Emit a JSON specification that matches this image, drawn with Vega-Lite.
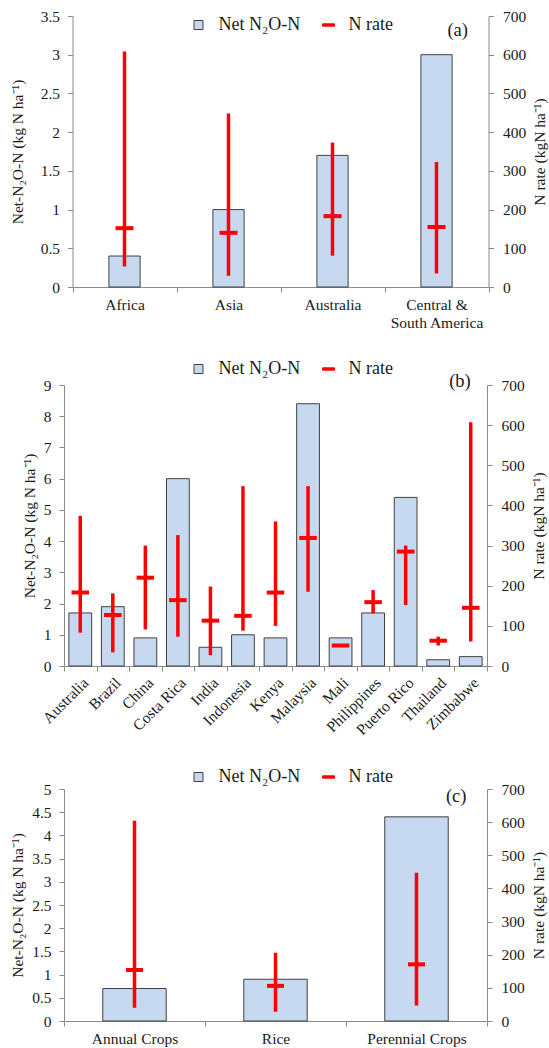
{
  "$schema": "https://vega.github.io/schema/vega-lite/v6.json",
  "padding": {"left": 10, "top": 9, "right": 0, "bottom": 5},
  "background": "white",
  "config": {
    "font": "Liberation Serif",
    "view": {"stroke": null},
    "axis": {
      "labelFont": "Liberation Serif",
      "titleFont": "Liberation Serif",
      "labelFontSize": 15.5,
      "titleFontSize": 15.5,
      "titleFontWeight": "normal",
      "labelColor": "#1a1a1a",
      "titleColor": "#1a1a1a",
      "domainColor": "#8a8a8a",
      "tickColor": "#8a8a8a",
      "grid": false,
      "tickSize": 5,
      "labelPadding": 8
    },
    "legend": {
      "title": null,
      "labelFont": "Liberation Serif",
      "labelFontSize": 18,
      "labelColor": "#1a1a1a",
      "symbolSize": 144,
      "labelOffset": 11,
      "columnPadding": 19,
      "padding": 0,
      "direction": "horizontal",
      "orient": "none"
    }
  },
  "datasets": {
    "a": [
      {"cat": "Africa", "net": 0.4, "mean": 152, "min": 53, "max": 608},
      {"cat": "Asia", "net": 1.0, "mean": 140, "min": 29, "max": 448},
      {"cat": "Australia", "net": 1.7, "mean": 183, "min": 81, "max": 373},
      {"cat": "Central & South America", "net": 3.0, "mean": 155, "min": 35, "max": 323}
    ],
    "b": [
      {"cat": "Australia", "net": 1.7, "mean": 183, "min": 83, "max": 374},
      {"cat": "Brazil", "net": 1.9, "mean": 127, "min": 34, "max": 181},
      {"cat": "China", "net": 0.9, "mean": 220, "min": 91, "max": 300},
      {"cat": "Costa Rica", "net": 6.0, "mean": 164, "min": 73, "max": 326},
      {"cat": "India", "net": 0.6, "mean": 113, "min": 27, "max": 198},
      {"cat": "Indonesia", "net": 1.0, "mean": 125, "min": 88, "max": 448},
      {"cat": "Kenya", "net": 0.9, "mean": 183, "min": 100, "max": 360},
      {"cat": "Malaysia", "net": 8.4, "mean": 319, "min": 185, "max": 448},
      {"cat": "Mali", "net": 0.9, "mean": 51, "min": 51, "max": 51},
      {"cat": "Philippines", "net": 1.7, "mean": 159, "min": 131, "max": 189},
      {"cat": "Puerto Rico", "net": 5.4, "mean": 285, "min": 152, "max": 300},
      {"cat": "Thailand", "net": 0.2, "mean": 63, "min": 51, "max": 73},
      {"cat": "Zimbabwe", "net": 0.3, "mean": 145, "min": 61, "max": 607}
    ],
    "c": [
      {"cat": "Annual Crops", "net": 0.7, "mean": 154, "min": 40, "max": 604},
      {"cat": "Rice", "net": 0.9, "mean": 106, "min": 28, "max": 206},
      {"cat": "Perennial Crops", "net": 4.4, "mean": 171, "min": 47, "max": 447}
    ]
  },
  "columns": 1,
  "spacing": 29,
  "resolve": {"scale": {"color": "independent"}, "legend": {"color": "independent"}},
  "concat": [
    {
      "width": 424.5,
      "height": 271,
      "data": {"name": "a"},
      "layer": [
        {
          "mark": {"type": "bar", "stroke": "#404040", "strokeWidth": 1, "width": {"band": 0.3}},
          "encoding": {
            "x": {"field": "cat", "type": "nominal", "sort": null, "scale": {"type": "band", "paddingInner": 0, "paddingOuter": 0, "range": [8.5, 424.5]},
              "axis": {"title": null, "labelAngle": 0, "tickBand": "extent", "labelPadding": 5, "labelLineHeight": 18,
                "labelExpr": "datum.label == 'Central & South America' ? ['Central &', 'South America'] : datum.label"}},
            "y": {"field": "net", "type": "quantitative", "scale": {"domain": [0, 3.5]},
              "axis": {"title": "Net-N₂O-N (kg N ha⁻¹)", "values": [0, 0.5, 1, 1.5, 2, 2.5, 3, 3.5], "format": "~g", "titlePadding": 15, "offset": -8.5}},
            "color": {"datum": "Net N₂O-N", "scale": {"domain": ["Net N₂O-N", "N rate"], "range": ["#c6d9f1", "#ff0000"]},
              "legend": {"legendX": 125.5, "legendY": 0, "labelFont": "Liberation Serif",
                "encoding": {"symbols": {
                  "shape": {"value": {"expr": "datum.value === 'N rate' ? 'M-1,-0.2H1V0.2H-1Z' : 'M-0.75,-0.75H0.75V0.75H-0.75Z'"}},
                  "fill": {"value": {"expr": "datum.value === 'N rate' ? '#ff0000' : '#c6d9f1'"}},
                  "stroke": {"value": {"expr": "datum.value === 'N rate' ? '#ff0000' : '#404040'"}},
                  "strokeWidth": {"value": 1},
                  "opacity": {"value": 1},
                  "size": {"value": 144}}}}}
          }
        },
        {
          "layer": [
            {
              "mark": {"type": "rule", "color": "#ff0000", "strokeWidth": 3.5},
              "encoding": {
                "x": {"field": "cat", "type": "nominal", "sort": null, "scale": {"type": "band", "paddingInner": 0, "paddingOuter": 0, "range": [8.5, 424.5]}},
                "y": {"field": "min", "type": "quantitative", "scale": {"domain": [0, 700]},
                  "axis": {"orient": "right", "title": "N rate (kgN ha⁻¹)", "values": [0, 100, 200, 300, 400, 500, 600, 700], "titleAngle": 270, "titleBaseline": "top", "titlePadding": 7, "labelPadding": 9}},
                "y2": {"field": "max"}
              }
            },
            {
              "mark": {"type": "tick", "thickness": 4, "size": 18, "opacity": 1},
              "encoding": {
                "x": {"field": "cat", "type": "nominal", "sort": null, "scale": {"type": "band", "paddingInner": 0, "paddingOuter": 0, "range": [8.5, 424.5]}},
                "y": {"field": "mean", "type": "quantitative", "scale": {"domain": [0, 700]},
                  "axis": {"orient": "right", "title": "N rate (kgN ha⁻¹)", "values": [0, 100, 200, 300, 400, 500, 600, 700], "titleAngle": 270, "titleBaseline": "top", "titlePadding": 7, "labelPadding": 9}},
                "color": {"datum": "N rate"}
              }
            },
            {
              "data": {"values": [{"label": "(a)"}]},
              "mark": {"type": "text", "align": "right", "baseline": "top", "dx": 31.5, "dy": 5, "fontSize": 18.5, "font": "Liberation Serif", "color": "#1a1a1a"},
              "encoding": {
                "x": {"datum": "Central & South America", "type": "nominal", "scale": {"type": "band", "paddingInner": 0, "paddingOuter": 0, "range": [8.5, 424.5]}},
                "y": {"datum": 700, "type": "quantitative", "scale": {"domain": [0, 700]},
                  "axis": {"orient": "right", "title": "N rate (kgN ha⁻¹)", "values": [0, 100, 200, 300, 400, 500, 600, 700], "titleAngle": 270, "titleBaseline": "top", "titlePadding": 7, "labelPadding": 9}},
                "text": {"field": "label"}
              }
            }
          ]
        }
      ],
      "resolve": {"scale": {"y": "independent"}}
    },
    {
      "width": 423,
      "height": 281,
      "data": {"name": "b"},
      "layer": [
        {
          "mark": {"type": "bar", "stroke": "#404040", "strokeWidth": 1, "width": {"band": 0.7}},
          "encoding": {
            "x": {"field": "cat", "type": "nominal", "sort": null, "scale": {"type": "band", "paddingInner": 0, "paddingOuter": 0},
              "axis": {"title": null, "labelAngle": -45, "tickBand": "extent", "labelPadding": 4}},
            "y": {"field": "net", "type": "quantitative", "scale": {"domain": [0, 9]},
              "axis": {"title": "Net-N₂O-N (kg N ha⁻¹)", "values": [0, 1, 2, 3, 4, 5, 6, 7, 8, 9], "format": "~g", "titlePadding": 6}},
            "color": {"datum": "Net N₂O-N", "scale": {"domain": ["Net N₂O-N", "N rate"], "range": ["#c6d9f1", "#ff0000"]},
              "legend": {"legendX": 125.5, "legendY": -25, "labelFont": "Liberation Serif",
                "encoding": {"symbols": {
                  "shape": {"value": {"expr": "datum.value === 'N rate' ? 'M-1,-0.2H1V0.2H-1Z' : 'M-0.75,-0.75H0.75V0.75H-0.75Z'"}},
                  "fill": {"value": {"expr": "datum.value === 'N rate' ? '#ff0000' : '#c6d9f1'"}},
                  "stroke": {"value": {"expr": "datum.value === 'N rate' ? '#ff0000' : '#404040'"}},
                  "strokeWidth": {"value": 1},
                  "opacity": {"value": 1},
                  "size": {"value": 144}}}}}
          }
        },
        {
          "layer": [
            {
              "mark": {"type": "rule", "color": "#ff0000", "strokeWidth": 3.5},
              "encoding": {
                "x": {"field": "cat", "type": "nominal", "sort": null, "scale": {"type": "band", "paddingInner": 0, "paddingOuter": 0}},
                "y": {"field": "min", "type": "quantitative", "scale": {"domain": [0, 700]},
                  "axis": {"orient": "right", "title": "N rate (kgN ha⁻¹)", "values": [0, 100, 200, 300, 400, 500, 600, 700], "titleAngle": 270, "titleBaseline": "top", "titlePadding": 7, "labelPadding": 9}},
                "y2": {"field": "max"}
              }
            },
            {
              "mark": {"type": "tick", "thickness": 4, "size": 17.5, "opacity": 1},
              "encoding": {
                "x": {"field": "cat", "type": "nominal", "sort": null, "scale": {"type": "band", "paddingInner": 0, "paddingOuter": 0}},
                "y": {"field": "mean", "type": "quantitative", "scale": {"domain": [0, 700]},
                  "axis": {"orient": "right", "title": "N rate (kgN ha⁻¹)", "values": [0, 100, 200, 300, 400, 500, 600, 700], "titleAngle": 270, "titleBaseline": "top", "titlePadding": 7, "labelPadding": 9}},
                "color": {"datum": "N rate"}
              }
            },
            {
              "data": {"values": [{"label": "(b)"}]},
              "mark": {"type": "text", "align": "right", "baseline": "top", "dx": 0, "dy": -13, "fontSize": 18.5, "font": "Liberation Serif", "color": "#1a1a1a"},
              "encoding": {
                "x": {"datum": "Zimbabwe", "type": "nominal", "scale": {"type": "band", "paddingInner": 0, "paddingOuter": 0}},
                "y": {"datum": 700, "type": "quantitative", "scale": {"domain": [0, 700]},
                  "axis": {"orient": "right", "title": "N rate (kgN ha⁻¹)", "values": [0, 100, 200, 300, 400, 500, 600, 700], "titleAngle": 270, "titleBaseline": "top", "titlePadding": 7, "labelPadding": 9}},
                "text": {"field": "label"}
              }
            }
          ]
        }
      ],
      "resolve": {"scale": {"y": "independent"}}
    },
    {
      "width": 423,
      "height": 232,
      "data": {"name": "c"},
      "layer": [
        {
          "mark": {"type": "bar", "stroke": "#404040", "strokeWidth": 1, "width": {"band": 0.45}},
          "encoding": {
            "x": {"field": "cat", "type": "nominal", "sort": null, "scale": {"type": "band", "paddingInner": 0, "paddingOuter": 0},
              "axis": {"title": null, "labelAngle": 0, "tickBand": "extent", "labelPadding": 5}},
            "y": {"field": "net", "type": "quantitative", "scale": {"domain": [0, 5]},
              "axis": {"title": "Net-N₂O-N (kg N ha⁻¹)", "values": [0, 0.5, 1, 1.5, 2, 2.5, 3, 3.5, 4, 4.5, 5], "format": "~g", "titlePadding": 6}},
            "color": {"datum": "Net N₂O-N", "scale": {"domain": ["Net N₂O-N", "N rate"], "range": ["#c6d9f1", "#ff0000"]},
              "legend": {"legendX": 125.5, "legendY": -21, "labelFont": "Liberation Serif",
                "encoding": {"symbols": {
                  "shape": {"value": {"expr": "datum.value === 'N rate' ? 'M-1,-0.2H1V0.2H-1Z' : 'M-0.75,-0.75H0.75V0.75H-0.75Z'"}},
                  "fill": {"value": {"expr": "datum.value === 'N rate' ? '#ff0000' : '#c6d9f1'"}},
                  "stroke": {"value": {"expr": "datum.value === 'N rate' ? '#ff0000' : '#404040'"}},
                  "strokeWidth": {"value": 1},
                  "opacity": {"value": 1},
                  "size": {"value": 144}}}}}
          }
        },
        {
          "layer": [
            {
              "mark": {"type": "rule", "color": "#ff0000", "strokeWidth": 3.5},
              "encoding": {
                "x": {"field": "cat", "type": "nominal", "sort": null, "scale": {"type": "band", "paddingInner": 0, "paddingOuter": 0}},
                "y": {"field": "min", "type": "quantitative", "scale": {"domain": [0, 700]},
                  "axis": {"orient": "right", "title": "N rate (kgN ha⁻¹)", "values": [0, 100, 200, 300, 400, 500, 600, 700], "titleAngle": 270, "titleBaseline": "top", "titlePadding": 7, "labelPadding": 9}},
                "y2": {"field": "max"}
              }
            },
            {
              "mark": {"type": "tick", "thickness": 4, "size": 17, "opacity": 1},
              "encoding": {
                "x": {"field": "cat", "type": "nominal", "sort": null, "scale": {"type": "band", "paddingInner": 0, "paddingOuter": 0}},
                "y": {"field": "mean", "type": "quantitative", "scale": {"domain": [0, 700]},
                  "axis": {"orient": "right", "title": "N rate (kgN ha⁻¹)", "values": [0, 100, 200, 300, 400, 500, 600, 700], "titleAngle": 270, "titleBaseline": "top", "titlePadding": 7, "labelPadding": 9}},
                "color": {"datum": "N rate"}
              }
            },
            {
              "data": {"values": [{"label": "(c)"}]},
              "mark": {"type": "text", "align": "right", "baseline": "top", "dx": 50, "dy": -2, "fontSize": 18.5, "font": "Liberation Serif", "color": "#1a1a1a"},
              "encoding": {
                "x": {"datum": "Perennial Crops", "type": "nominal", "scale": {"type": "band", "paddingInner": 0, "paddingOuter": 0}},
                "y": {"datum": 700, "type": "quantitative", "scale": {"domain": [0, 700]},
                  "axis": {"orient": "right", "title": "N rate (kgN ha⁻¹)", "values": [0, 100, 200, 300, 400, 500, 600, 700], "titleAngle": 270, "titleBaseline": "top", "titlePadding": 7, "labelPadding": 9}},
                "text": {"field": "label"}
              }
            }
          ]
        }
      ],
      "resolve": {"scale": {"y": "independent"}}
    }
  ]
}
